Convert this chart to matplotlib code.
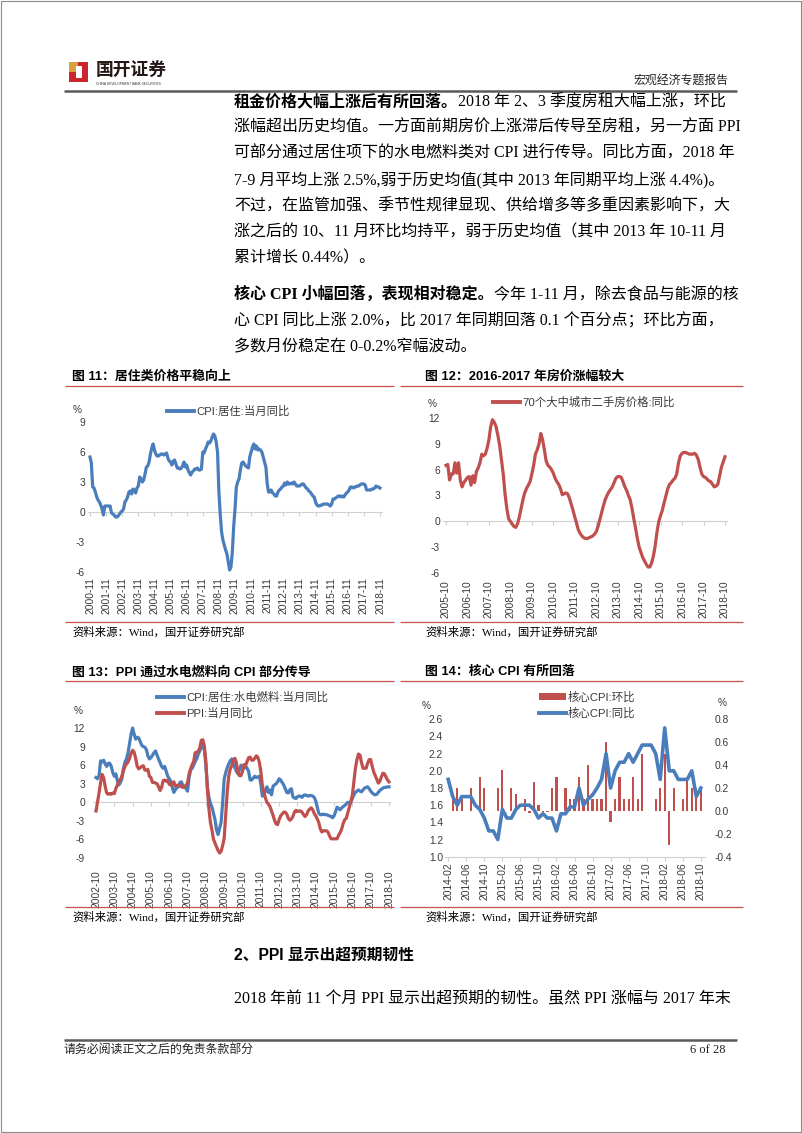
import matplotlib
matplotlib.use('Agg')
import matplotlib.pyplot as plt
from matplotlib.lines import Line2D
from matplotlib.patches import Rectangle, Patch
from matplotlib.font_manager import FontProperties
import pandas as pd

# ---------------------------------------------------------------- data
# 图11 CPI:居住:当月同比 (monthly, from 2000-11)
cpi_housing_start = '2000-11'
cpi_housing = [5.5, 4.9,
               2.5, 2.4, 2.0, 1.5, 1.2, 1.0, 0.7, 0.3, -0.3, 0.6, 0.6, 0.6,
               0.6, 0.6, -0.1, -0.2, -0.3, -0.5, -0.5, -0.4, -0.2, 0.0, 0.1, 0.3,
               1.0, 1.2, 1.5, 2.0, 2.1, 1.8, 2.3, 2.2, 1.9, 2.4, 2.6, 3.5,
               3.3, 3.0, 3.2, 3.8, 4.5, 4.6, 5.0, 5.8, 6.4, 6.8, 6.2, 5.8,
               5.6, 5.6, 5.7, 5.8, 5.8, 5.7, 5.8, 5.9, 5.4, 5.1, 5.0, 4.7,
               5.1, 5.2, 4.8, 4.4, 4.4, 4.3, 4.4, 4.6, 5.0, 4.5, 4.7, 4.2,
               3.9, 3.7, 4.0, 4.1, 4.3, 4.3, 4.4, 4.2, 4.2, 4.3, 6.0, 5.9,
               6.3, 6.6, 7.0, 6.9, 7.1, 7.5, 7.8, 7.6, 7.0, 6.0, 2.0, -0.2,
               -2.0, -2.8, -3.3, -3.8, -4.2, -5.0, -5.8, -5.5, -4.0, -1.5, 0.3, 2.5,
               3.0, 3.3, 4.2, 4.9, 5.0, 4.8, 4.6, 4.5, 4.4, 5.5, 6.0, 6.5,
               6.8, 6.3, 6.6, 6.2, 6.3, 6.2, 6.0, 5.5, 5.0, 4.5, 2.8, 2.0,
               2.0, 2.2, 1.9, 1.8, 1.6, 1.6, 2.0, 2.2, 2.3, 2.5, 2.6, 2.9,
               2.7, 3.0, 2.8, 2.8, 2.9, 2.8, 3.0, 2.8, 2.6, 2.6, 2.6, 2.7,
               2.8, 2.8, 2.6, 2.4, 2.3, 2.1, 2.0, 1.8, 1.6, 1.5, 1.0, 0.7,
               0.6, 0.6, 0.7, 0.7, 0.8, 0.8, 0.8, 0.8, 0.7, 0.6, 0.8, 1.3,
               1.3, 1.4, 1.5, 1.6, 1.6, 1.5, 1.6, 1.5, 1.7, 1.9, 2.0, 2.2,
               2.5, 2.5, 2.4, 2.5, 2.5, 2.6, 2.6, 2.7, 2.8, 2.8, 2.8, 2.7,
               2.2, 2.2, 2.2, 2.2, 2.3, 2.3, 2.4, 2.6, 2.5, 2.5, 2.4]

# 图12 70个大中城市二手房价格:同比 (monthly, from 2005-10)
house_price_start = '2005-10'
house_price = [6.5, 6.6, 4.8, 5.5, 5.5, 6.8, 5.6, 6.8, 4.8, 4.0,
               4.5, 4.8, 5.1, 5.2, 4.2, 5.3, 4.5, 5.8, 6.2, 6.8,
               7.8, 7.6, 7.8, 8.5, 9.5, 11.0, 11.8, 11.5, 11.0, 10.0,
               8.8, 7.2, 5.5, 3.2, 1.5, 0.3, 0.0, -0.3, -0.6, -0.7,
               -0.3, 0.5, 1.5, 2.5, 3.3, 3.8, 4.2, 4.6, 5.5, 6.5,
               7.8, 8.3, 9.0, 10.2, 9.5, 8.3, 7.0, 6.5, 6.3, 6.0,
               5.6, 5.0, 4.6, 4.3, 3.8, 3.1, 3.2, 3.3, 3.2, 2.7,
               2.0, 1.3, 0.5, -0.2, -1.0, -1.4, -1.7, -1.9, -2.0, -2.0,
               -1.9, -1.8, -1.7, -1.5, -1.2, -0.6, 0.2, 1.0, 1.8, 2.5,
               3.0, 3.4, 3.7, 4.0, 4.5, 5.0, 5.2, 5.2, 5.1, 4.6,
               4.0, 3.6, 3.0, 2.5, 1.5, 0.3, -0.8, -2.0, -3.0, -3.6,
               -4.2, -4.6, -5.0, -5.3, -5.3, -4.8, -4.0, -2.8, -1.2, 0.0,
               0.7, 1.3, 2.2, 3.0, 3.8, 4.3, 4.5, 4.8, 5.0, 5.5,
               6.8, 7.6, 7.9, 8.0, 8.0, 7.9, 7.8, 7.8, 7.8, 7.9,
               7.7, 7.2, 6.3, 5.5, 5.2, 5.1, 4.9, 4.7, 4.6, 4.3,
               4.0, 4.1, 4.3, 5.3, 6.3, 6.9, 7.5]

# 图13 CPI:居住:水电燃料:当月同比 / PPI:当月同比 (monthly, from 2002-10)
fuel_start = '2002-10'
cpi_water_fuel = [4.0, 3.8, 4.3, 6.7, 6.5, 6.8, 6.2, 5.8, 6.3, 6.3,
                  5.8, 4.8, 4.2, 4.6, 3.5, 2.8, 3.2, 3.8, 5.5, 6.5,
                  7.0, 8.0, 9.5, 11.0, 12.0, 11.0, 10.2, 10.5, 10.4, 9.8,
                  9.2, 9.0, 8.9, 8.5, 7.5, 7.0, 7.2, 7.6, 8.0, 8.3,
                  7.6, 7.0, 6.4, 5.8, 5.5, 5.8, 5.0, 4.2, 3.8, 3.4,
                  2.4, 1.6, 2.0, 2.4, 2.5, 3.2, 3.3, 2.6, 2.5, 2.2,
                  1.8, 4.0, 5.2, 5.5, 6.0, 6.6, 7.0, 7.8, 8.3, 8.8,
                  9.3, 8.5, 6.0, 2.5, 0.8, -0.2, -0.8, -1.8, -2.8, -4.5,
                  -5.2, -4.2, -3.2, 0.0, 3.8, 4.8, 5.6, 6.2, 6.7, 7.0,
                  6.2, 5.6, 5.0, 4.6, 5.2, 6.0, 5.6, 5.5, 5.8, 5.5,
                  5.0, 3.6, 3.6, 3.9, 4.2, 4.0, 4.1, 4.2, 3.0, 1.0,
                  1.3, 1.8, 2.5, 1.6, 2.0, 1.2, 2.6, 2.8, 3.0, 3.3,
                  3.8, 3.6, 3.2, 2.8, 2.2, 1.6, 1.5, 2.0, 2.2, 0.9,
                  0.7, 0.6, 0.9, 1.0, 1.0, 0.8, 1.1, 1.2, 1.1, 1.0,
                  1.1, 1.1, 1.0, 0.8, 0.2, -0.8, -1.8, -2.0, -2.0, -1.9,
                  -2.0, -2.0, -2.1, -2.2, -2.3, -2.5, -2.2, -1.5, -0.8, -1.0,
                  -1.2, -0.9, -0.7, -0.5, -0.3, 0.0, -0.1, 0.1, 0.6, 1.2,
                  1.6, 1.8, 2.0, 1.8, 1.7, 2.0, 2.3, 2.4, 2.5, 2.2,
                  1.8, 1.5, 1.3, 1.2, 1.3, 1.6, 1.9, 2.1, 2.3, 2.4,
                  2.4, 2.5, 2.5]
ppi = [-1.4, 0.0, 1.5,
       3.2, 4.5, 4.0, 2.6, 1.5, 1.3, 1.4, 1.3, 1.5, 1.4, 2.2, 2.8,
       3.5, 3.6, 4.3, 5.1, 5.8, 6.2, 6.5, 7.1, 7.9, 8.4, 8.1, 7.1,
       5.8, 5.4, 5.6, 5.8, 5.9, 5.2, 5.2, 5.3, 4.2, 4.0, 3.2, 3.2,
       3.1, 3.0, 2.5, 1.9, 2.4, 3.5, 3.6, 3.4, 3.5, 2.9, 2.8, 3.1,
       3.3, 2.6, 2.7, 2.8, 2.8, 2.5, 2.4, 2.6, 2.7, 3.2, 4.6, 5.4,
       6.1, 6.6, 8.0, 8.1, 8.2, 8.8, 10.0, 10.1, 9.1, 6.6, 2.0, -1.1,
       -3.3, -4.5, -6.0, -6.6, -7.2, -7.8, -8.2, -7.9, -7.0, -5.8, -2.1, 1.7,
       4.3, 5.4, 5.9, 6.8, 7.1, 6.4, 4.8, 4.3, 4.3, 5.0, 6.1, 5.9,
       6.6, 7.2, 7.3, 6.8, 6.8, 7.1, 7.5, 7.3, 6.5, 5.0, 2.7, 1.7,
       0.7, 0.0, -0.3, -0.7, -1.4, -2.1, -2.9, -3.5, -3.6, -2.8, -2.2, -1.9,
       -1.6, -1.6, -1.9, -2.6, -2.9, -2.7, -2.3, -1.6, -1.3, -1.5, -1.4, -1.4,
       -1.6, -2.0, -2.3, -2.0, -1.4, -1.1, -0.9, -1.2, -1.8, -2.2, -2.7, -3.3,
       -4.3, -4.8, -4.6, -4.6, -4.6, -4.8, -5.4, -5.9, -5.9, -5.9, -5.9, -5.9,
       -5.3, -4.9, -4.3, -3.4, -2.8, -2.6, -1.7, -0.8, 0.1, 1.2, 3.3, 5.5,
       6.9, 7.8, 7.6, 6.4, 5.5, 5.5, 5.5, 6.3, 6.9, 6.9, 5.8, 4.9,
       4.3, 3.7, 3.1, 3.4, 4.1, 4.7, 4.6, 4.1, 3.6, 3.3]

# 图14 核心CPI 同比 (left axis) / 环比 (right axis), monthly from 2014-02
core_start = '2014-02'
core_yoy = [1.9, 1.7, 1.6, 1.7, 1.7, 1.7, 1.6, 1.55, 1.45, 1.3,
            1.3, 1.2, 1.55, 1.45, 1.45, 1.55, 1.6, 1.6, 1.6, 1.55,
            1.45, 1.5, 1.45, 1.45, 1.3, 1.5, 1.5, 1.58, 1.58, 1.8,
            1.6, 1.67, 1.72, 1.8, 1.9, 2.2, 1.8, 2.0, 2.1, 2.1,
            2.2, 2.1, 2.2, 2.3, 2.3, 2.3, 2.2, 1.9, 2.5, 2.0,
            2.0, 1.9, 1.9, 1.9, 2.0, 1.7, 1.8]
core_mom = [0.0, 0.1, 0.2, 0.1, 0.0, 0.2, 0.0, 0.3, 0.2, 0.0,
            0.0, 0.2, 0.36, 0.0, 0.2, 0.15, 0.0, 0.1, -0.02, 0.25,
            0.05, -0.01, -0.01, 0.2, 0.3, 0.0, 0.2, 0.1, 0.1, 0.3,
            0.1, 0.4, 0.1, 0.1, 0.1, 0.6, -0.1, 0.1, 0.3, 0.1,
            0.1, 0.3, 0.1, 0.5, 0.0, 0.0, 0.1, 0.2, 0.5, -0.3,
            0.2, 0.0, 0.1, 0.3, 0.2, 0.2, 0.2]

# tick labels
def month_labels(start, n):
    return [p.strftime('%Y-%m') for p in pd.period_range(start, periods=n, freq='M')]

lab11 = month_labels(cpi_housing_start, len(cpi_housing))
lab12 = month_labels(house_price_start, len(house_price))
lab13 = month_labels(fuel_start, len(ppi))
lab14 = month_labels(core_start, len(core_yoy))

y11 = [-6, -3, 0, 3, 6, 9]
y12 = [-6, -3, 0, 3, 6, 9, 12]
y13 = [-9, -6, -3, 0, 3, 6, 9, 12]
y14l = [1.0, 1.2, 1.4, 1.6, 1.8, 2.0, 2.2, 2.4, 2.6]
y14r = [-0.4, -0.2, 0.0, 0.2, 0.4, 0.6, 0.8]

# ---------------------------------------------------------------- page
W, H = 802, 1133
fig = plt.figure(figsize=(W / 100, H / 100), dpi=100)
fig.patch.set_facecolor('white')

SERIF = ['Liberation Serif', 'Noto Sans CJK SC']
SANS = ['Liberation Sans', 'Noto Sans CJK SC']
BLUE = '#4a7dbb'
RED = '#c0504d'
TITLE_RED = '#c8504e'
TICK_C = '#3a3a3a'
GRID_C = '#d0d0d0'


def fx(x):
    return x / W


def fy(y):
    return 1 - y / H


def ptext(x, y, s, size, family=SERIF, weight='normal', ha='left', va='center', color='black'):
    return fig.text(fx(x), fy(y), s, fontsize=size, family=family, weight=weight,
                    ha=ha, va=va, color=color)


def hline(x0, x1, y, color, lw):
    fig.add_artist(Line2D([fx(x0), fx(x1)], [fy(y), fy(y)], color=color, lw=lw,
                          transform=fig.transFigure, solid_capstyle='butt'))


def rect(x0, y0, x1, y1, color):
    fig.add_artist(Rectangle((fx(x0), fy(y1)), (x1 - x0) / W, (y1 - y0) / H,
                             transform=fig.transFigure, facecolor=color, edgecolor='none'))


# page frame
fig.add_artist(Rectangle((0.6 / W, 0.6 / H), (W - 1.2) / W, (H - 1.2) / H, transform=fig.transFigure,
                         fill=False, edgecolor='#8c8c8c', lw=0.8))

# header logo
rect(69, 62, 88, 82, '#c9252b')
rect(69, 62, 78, 72, '#d7a13f')
rect(76, 66, 82, 78, 'white')
ptext(96, 71, '国开证券', 12.8, family=['Noto Sans CJK SC'], weight='bold', color='#231815')
ptext(96, 84, 'CHINA DEVELOPMENT BANK SECURITIES', 2.3, family=['Liberation Sans'], color='#333333')
ptext(633, 81, '宏观经济专题报告', 8.6, color='#222222')
hline(64, 737, 91, '#5a5a5a', 1.8)

# body text
r = fig.canvas.get_renderer()
BODY = 11.5


def mixed_line(y, bold, normal):
    x = 234
    if bold:
        t = ptext(x, y, bold, BODY, weight='bold')
        x = t.get_window_extent(renderer=r).x1
    if normal:
        ptext(x, y, normal, BODY)


lines1 = [
    ('租金价格大幅上涨后有所回落。', '2018 年 2、3 季度房租大幅上涨，环比'),
    ('', '涨幅超出历史均值。一方面前期房价上涨滞后传导至房租，另一方面 PPI'),
    ('', '可部分通过居住项下的水电燃料类对 CPI 进行传导。同比方面，2018 年'),
    ('', '7-9 月平均上涨 2.5%,弱于历史均值(其中 2013 年同期平均上涨 4.4%)。'),
    ('', '不过，在监管加强、季节性规律显现、供给增多等多重因素影响下，大'),
    ('', '涨之后的 10、11 月环比均持平，弱于历史均值（其中 2013 年 10-11 月'),
    ('', '累计增长 0.44%）。'),
]
for i, (b, n) in enumerate(lines1):
    mixed_line(102 + 26 * i, b, n)

lines2 = [
    ('核心 CPI 小幅回落，表现相对稳定。', '今年 1-11 月，除去食品与能源的核'),
    ('', '心 CPI 同比上涨 2.0%，比 2017 年同期回落 0.1 个百分点；环比方面，'),
    ('', '多数月份稳定在 0-0.2%窄幅波动。'),
]
for i, (b, n) in enumerate(lines2):
    mixed_line(295 + 26 * i, b, n)

# section heading and text
ptext(234, 955, '2、PPI 显示出超预期韧性', 11.3, family=SANS, weight='bold')
ptext(234, 999, '2018 年前 11 个月 PPI 显示出超预期的韧性。虽然 PPI 涨幅与 2017 年末', BODY)

# footer
hline(64, 737, 1040, '#5a5a5a', 1.8)
ptext(64, 1050, '请务必阅读正文之后的免责条款部分', 8.6, color='#222222')
ptext(725, 1050, '6 of 28', 9, ha='right', color='#222222')

# chart titles and frames
TITLE = 9.3
ptext(72, 377, '图 11：居住类价格平稳向上', TITLE, family=SANS, weight='bold')
ptext(425, 377, '图 12：2016-2017 年房价涨幅较大', TITLE, family=SANS, weight='bold')
ptext(72, 672, '图 13：PPI 通过水电燃料向 CPI 部分传导', TITLE, family=SANS, weight='bold')
ptext(425, 672, '图 14：核心 CPI 有所回落', TITLE, family=SANS, weight='bold')
for y in (386, 622):
    hline(65, 394, y, TITLE_RED, 0.9)
    hline(400, 743, y, TITLE_RED, 0.9)
for y in (681, 907):
    hline(65, 394, y, TITLE_RED, 0.9)
    hline(400, 743, y, TITLE_RED, 0.9)
SRC = '资料来源：Wind，国开证券研究部'
for (x, y) in ((72, 632), (425, 632), (72, 917), (425, 917)):
    ptext(x, y, SRC, 8.2)


# ---------------------------------------------------------------- charts
def data_axes(px_first, px_last, n, ax_left, ax_right, y_top, y_bot, ymin, ymax):
    a = (px_last - px_first) / (n - 1)
    ax = fig.add_axes([ax_left / W, 1 - y_bot / H, (ax_right - ax_left) / W, (y_bot - y_top) / H])
    ax.set_xlim((ax_left - px_first) / a, (ax_right - px_first) / a)
    ax.set_ylim(ymin, ymax)
    ax.patch.set_visible(False)
    for s in ax.spines.values():
        s.set_visible(False)
    return ax


def y_ticks(ax, vals, fmt, pad_px, side='left'):
    ax.set_yticks(vals)
    ax.set_yticklabels([fmt.format(v) for v in vals], fontsize=7.4, family=SANS, color=TICK_C)
    ax.tick_params(axis='y', length=0, pad=pad_px * 0.72)
    if side == 'right':
        ax.yaxis.tick_right()


def x_ticks(ax, labels, step, pad_px, tick_len_px=0):
    pos = list(range(0, len(labels), step))
    ax.set_xticks(pos)
    ax.set_xticklabels([labels[i] for i in pos], rotation=90, fontsize=7.4, family=SANS, color=TICK_C)
    ax.tick_params(axis='x', length=tick_len_px * 0.72, width=0.8, color=GRID_C, pad=pad_px * 0.72)
    return pos


def zero_axis(ax, pos, y_top, y_bot, ymin, ymax):
    ax.axhline(0, color=GRID_C, lw=0.8, zorder=1)
    tl = 4 * (ymax - ymin) / (y_bot - y_top)
    ax.vlines(pos, -tl, 0, color=GRID_C, lw=0.8, zorder=1)


def pct(x, y):
    ptext(x, y, '%', 7.2, family=SANS, ha='center', color=TICK_C)


legend_font = FontProperties(family=SANS, size=8.2)


def legend(ax, handles, labels, x, y):
    lg = ax.legend(handles, labels, loc='center left', bbox_to_anchor=(fx(x), fy(y)),
                   bbox_transform=fig.transFigure, frameon=False, borderpad=0, borderaxespad=0,
                   handlelength=2.4, handletextpad=0.15, labelspacing=0.4, prop=legend_font,
                   handleheight=0.5)
    for t in lg.get_texts():
        t.set_color(TICK_C)
    return lg


# 图11
ax = data_axes(90, 380, len(cpi_housing), 88, 383, 422, 572, -6, 9)
ax.plot(range(len(cpi_housing)), cpi_housing, color=BLUE, lw=2.3, zorder=3, clip_on=False,
        solid_joinstyle='round')
y_ticks(ax, y11, '{:d}', 3)
pos = x_ticks(ax, lab11, 12, 5)
zero_axis(ax, pos, 422, 572, -6, 9)
pct(77, 410)
legend(ax, [Line2D([], [], color=BLUE, lw=2.8)], ['CPI:居住:当月同比'], 167, 411)

# 图12
ax = data_axes(446, 725, len(house_price), 443, 728, 418, 573, -6, 12)
ax.plot(range(len(house_price)), house_price, color=RED, lw=2.3, zorder=3, clip_on=False,
        solid_joinstyle='round')
y_ticks(ax, y12, '{:d}', 3)
pos = x_ticks(ax, lab12, 12, 7)
zero_axis(ax, pos, 418, 573, -6, 12)
pct(432, 404)
legend(ax, [Line2D([], [], color=RED, lw=2.8)], ['70个大中城市二手房价格:同比'], 493, 402)

# 图13
ax = data_axes(96, 389, len(ppi), 93, 391, 728, 858, -9, 12)
ax.plot(range(len(cpi_water_fuel)), cpi_water_fuel, color=BLUE, lw=2.3, zorder=3, clip_on=False,
        solid_joinstyle='round')
ax.plot(range(len(ppi)), ppi, color=RED, lw=2.3, zorder=4, clip_on=False, solid_joinstyle='round')
y_ticks(ax, y13, '{:d}', 8)
pos = x_ticks(ax, lab13, 12, 12)
zero_axis(ax, pos, 728, 858, -9, 12)
pct(78, 711)
legend(ax, [Line2D([], [], color=BLUE, lw=2.8), Line2D([], [], color=RED, lw=2.8)],
       ['CPI:居住:水电燃料:当月同比', 'PPI:当月同比'], 157, 705)

# 图14
ax = data_axes(448.2, 700.8, len(core_yoy), 445, 705, 719.3, 856.7, 1.0, 2.6)
ax2 = ax.twinx()
ax2.set_ylim(-0.4, 0.8)
for s in ax2.spines.values():
    s.set_visible(False)
ax2.bar(range(len(core_mom)), core_mom, width=0.5, color=RED, zorder=2)
ax.plot(range(len(core_yoy)), core_yoy, color=BLUE, lw=2.6, zorder=3, clip_on=False,
        solid_joinstyle='round')
ax.set_zorder(ax2.get_zorder() + 1)
ax.patch.set_visible(False)
y_ticks(ax, y14l, '{:.1f}', 2)
y_ticks(ax2, y14r, '{:.1f}', 10, side='right')
ax.spines['bottom'].set_visible(True)
ax.spines['bottom'].set_color(GRID_C)
ax.spines['bottom'].set_linewidth(0.8)
x_ticks(ax, lab14, 4, 1.5, tick_len_px=4)
pct(426, 706)
pct(722, 703)
legend(ax, [Patch(facecolor=RED, edgecolor='none'), Line2D([], [], color=BLUE, lw=2.8)],
       ['核心CPI:环比', '核心CPI:同比'], 539, 705)

fig.savefig('out.png', dpi=100, facecolor='white')
